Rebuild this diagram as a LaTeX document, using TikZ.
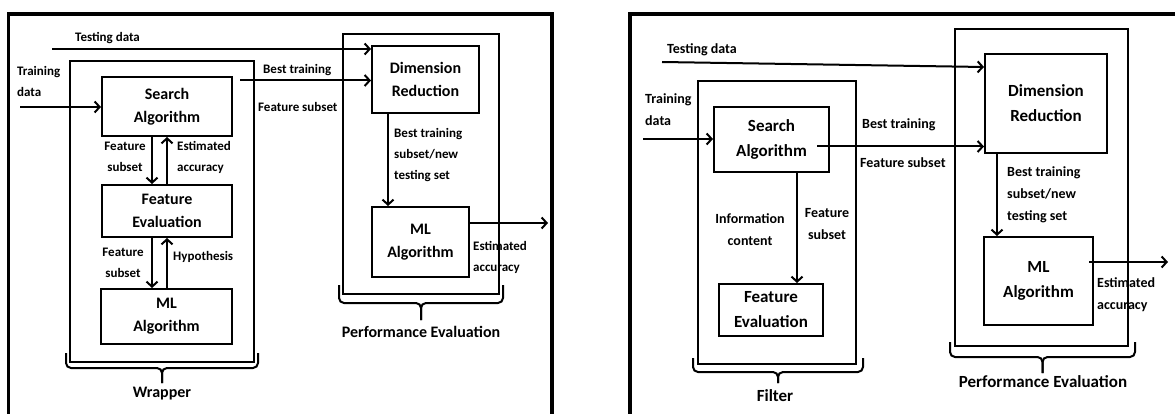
\documentclass[tikz,border=0pt]{standalone}
\usepackage{fontspec}
\setmainfont{Carlito}
\usetikzlibrary{arrows.meta}
\newcommand\grpbrace[5]{%
  \draw[brc] (#1,#3) -- (#1,#4) -- ({(#1+#2)/2},#4) -- ({(#1+#2)/2},#5);
  \draw[brc] ({(#1+#2)/2},#5) -- ({(#1+#2)/2},#4) -- (#2,#4) -- (#2,#3);}
\begin{document}
\begin{tikzpicture}[x=1pt,y=-1pt,
  frame/.style={draw,line width=3.5pt},
  group/.style={draw,line width=2.2pt},
  boxL/.style={draw,line width=2pt,align=center,inner sep=0pt,font=\bfseries\fontsize{16}{23}\selectfont},
  boxR/.style={draw,line width=2pt,align=center,inner sep=0pt,font=\bfseries\fontsize{17}{25}\selectfont},
  lblL/.style={inner sep=0pt,font=\bfseries\fontsize{13}{21}\selectfont},
  lblR/.style={inner sep=0pt,font=\bfseries\fontsize{14}{22}\selectfont},
  capL/.style={inner sep=0pt,font=\bfseries\fontsize{16}{20}\selectfont},
  capR/.style={inner sep=0pt,font=\bfseries\fontsize{17}{20}\selectfont},
  arr/.style={line width=2pt,-{Straight Barb[length=5pt,width=11pt]}},
  brc/.style={line width=2pt,rounded corners=5pt}]
\useasboundingbox (0,0) rectangle (1175,414);
\clip (0,0) rectangle (1175,414);
\fill[white] (0,0) rectangle (1175,414);
% outer frames
\draw[frame] (8.5,14) rectangle (552,440);
\draw[frame] (630,14) rectangle (1200,440);

% ===== Left panel =====
\draw[group] (70,61) rectangle (254,362);
\draw[group] (343,34) rectangle (499,294);
\node[boxL,minimum width=130pt,minimum height=59pt] (SA1) at (167,106.5) {Search\\Algorithm};
\node[boxL,minimum width=130pt,minimum height=52pt] (FE1) at (167,211) {Feature\\Evaluation};
\node[boxL,minimum width=131pt,minimum height=55pt] (ML1) at (166.5,316.5) {ML\\Algorithm};
\node[boxL,minimum width=107pt,minimum height=67pt] (DR1) at (425.5,79.5) {Dimension\\Reduction};
\node[boxL,minimum width=97pt,minimum height=70pt] (MA1) at (420.5,242) {ML\\Algorithm};

\coordinate (t1) at (52,49);
\coordinate (r1) at (20,107);
\coordinate (b1) at (240,80.5);
\coordinate (o1) at (548,223);
\coordinate (v1) at (388,0);
\draw[arr] (t1) -- (t1 -| DR1.west);
\draw[arr] (r1) -- (r1 -| SA1.west);
\draw[arr] (b1) -- (b1 -| DR1.west);
\draw[arr] ([xshift=-15pt]SA1.south) -- ([xshift=-15pt]FE1.north);
\draw[arr] (FE1.north) -- (SA1.south);
\draw[arr] ([xshift=-15pt]FE1.south) -- ([xshift=-14.5pt]ML1.north);
\draw[arr] ([xshift=0.5pt]ML1.north) -- (FE1.south);
\draw[arr] (DR1.south -| v1) -- (MA1.north -| v1);
\draw[arr] (o1 -| MA1.east) -- (o1);

\node[lblL,anchor=west] (l1) at (75,38) {Testing data};
\node[lblL,anchor=west,align=left] (l2) at (17,81) {Training\\data};
\node[lblL,anchor=west] (l3) at (263,70) {Best training};
\node[lblL,anchor=west] (l4) at (258,107) {Feature subset};
\node[lblL,align=center] (l5) at (125,157) {Feature\\subset};
\node[lblL,anchor=west,align=left] (l6) at (177,157) {Estimated\\accuracy};
\node[lblL,align=center] (l7) at (123,263) {Feature\\subset};
\node[lblL,anchor=west] (l8) at (173,257) {Hypothesis};
\node[lblL,anchor=west,align=left] (l9) at (394,155) {Best training\\subset/new\\testing set};
\node[lblL,anchor=west,align=left] (l10) at (473,257) {Estimated\\accuracy};

\grpbrace{66}{258}{353}{368}{383}
\node[capL] (w1) at (162,394) {Wrapper};
\grpbrace{339}{503}{285}{303}{320}
\node[capL] (p1) at (421,332) {Performance Evaluation};

% ===== Right panel =====
\draw[group] (698,81) rectangle (856,364);
\draw[group] (955,29) rectangle (1128,346);
\node[boxR,minimum width=115pt,minimum height=65pt] (SA2) at (771.5,139.5) {Search\\Algorithm};
\node[boxR,minimum width=104pt,minimum height=52pt] (FE2) at (771,310) {Feature\\Evaluation};
\node[boxR,minimum width=122pt,minimum height=99pt] (DR2) at (1046,103.5) {Dimension\\Reduction};
\node[boxR,minimum width=109pt,minimum height=88pt] (ML2) at (1038.5,281) {ML\\Algorithm};

\coordinate (t2) at (662,62);
\coordinate (h2) at (0,67);
\coordinate (r2) at (643,139);
\coordinate (b2) at (817,146.5);
\coordinate (o2) at (1168,262);
\coordinate (v2) at (797,0);
\coordinate (w2) at (997,0);
\draw[arr] (t2) -- (DR2.west |- h2);
\draw[arr] (r2) -- (r2 -| SA2.west);
\draw[arr] (b2) -- (b2 -| DR2.west);
\draw[arr] (SA2.south -| v2) -- (FE2.north -| v2);
\draw[arr] (DR2.south -| w2) -- (ML2.north -| w2);
\draw[arr] ([xshift=-5pt]o2 -| ML2.east) -- (o2);

\node[lblR,anchor=west] (m1) at (667,50) {Testing data};
\node[lblR,anchor=west,align=left] (m2) at (645,109.5) {Training\\data};
\node[lblR,anchor=west] (m3) at (862,125) {Best training};
\node[lblR,anchor=west] (m4) at (860,163) {Feature subset};
\node[lblR,align=center] (m5) at (750,230) {Information\\content};
\node[lblR,align=center] (m6) at (827,224.5) {Feature\\subset};
\node[lblR,anchor=west,align=left] (m7) at (1007,195) {Best training\\subset/new\\testing set};
\node[lblR,anchor=west,align=left] (m8) at (1097,294.5) {Estimated\\accuracy};

\grpbrace{693}{863}{358}{372}{383}
\node[capR] (f2) at (775,396) {Filter};
\grpbrace{950}{1135}{342}{357}{373}
\node[capR] (p2) at (1043,382) {Performance Evaluation};
\end{tikzpicture}
\end{document}
